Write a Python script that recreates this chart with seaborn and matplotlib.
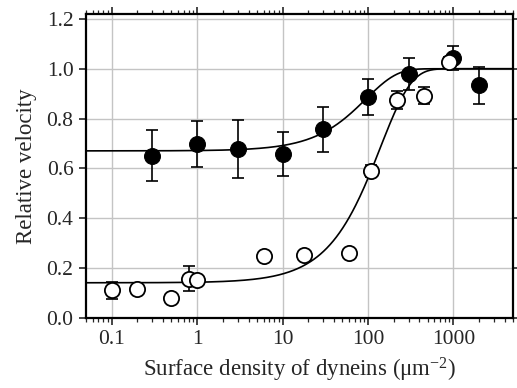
import numpy as np
import pandas as pd
import matplotlib
matplotlib.use("Agg")
import matplotlib.pyplot as plt
import seaborn as sns

# ---- data ----
filled_x = [0.3, 1, 3, 10, 30, 100, 300, 1000, 2000]
filled_y = [0.650, 0.698, 0.677, 0.658, 0.757, 0.886, 0.979, 1.043, 0.933]
filled_err = [0.102, 0.092, 0.116, 0.087, 0.090, 0.073, 0.065, 0.047, 0.073]

open_x = [0.1, 0.2, 0.5, 0.8, 1.0, 6, 18, 60, 110, 220, 450, 900]
open_y = [0.110, 0.113, 0.077, 0.157, 0.150, 0.247, 0.251, 0.260, 0.590, 0.875, 0.892, 1.029]
open_err = [0.035, 0.0, 0.0, 0.050, 0.0, 0.018, 0.018, 0.0, 0.025, 0.035, 0.035, 0.020]

# fitted curve parameters: base, top, K, exponent
filled_fit = dict(base=0.67, top=1.0, K=95.0, m=1.2)
open_fit = dict(base=0.14, top=1.0, K=140.0, m=1.2)

x_ticks = [0.1, 1, 10, 100, 1000]
x_ticklabels = ["0.1", "1", "10", "100", "1000"]
y_ticks = [0.0, 0.2, 0.4, 0.6, 0.8, 1.0, 1.2]


def fit_curve(x, base, top, K, m):
    return base + (top - base) * (1 - np.exp(-(x / K) ** m))


sns.set_style("ticks")
plt.rcParams["font.family"] = ["Liberation Serif", "DejaVu Serif"]
plt.rcParams["mathtext.fontset"] = "custom"
plt.rcParams["mathtext.rm"] = "Liberation Serif"
plt.rcParams["mathtext.it"] = "Liberation Serif:italic"

fig = plt.figure(figsize=(5.17, 3.88), dpi=100)
ax = fig.add_axes([0.1663, 0.1814, 0.8260, 0.7825])

xs = np.logspace(np.log10(0.05), np.log10(5000), 400)
curves = pd.concat([
    pd.DataFrame({"x": xs, "y": fit_curve(xs, **filled_fit), "s": "filled"}),
    pd.DataFrame({"x": xs, "y": fit_curve(xs, **open_fit), "s": "open"}),
])
sns.lineplot(data=curves, x="x", y="y", units="s", estimator=None,
             color="black", lw=1.2, ax=ax, zorder=3)

ax.errorbar(filled_x, filled_y, yerr=filled_err, fmt="none", ecolor="black",
            elinewidth=1.2, capsize=4, capthick=1.2, zorder=4)
sns.scatterplot(x=filled_x, y=filled_y, color="black", s=130, marker="o",
                edgecolor="black", linewidth=0.8, ax=ax, zorder=5)

ax.errorbar(open_x, open_y, yerr=open_err, fmt="none", ecolor="black",
            elinewidth=1.2, capsize=4, capthick=1.2, zorder=6)
sns.scatterplot(x=open_x, y=open_y, color="white", s=120, marker="o",
                edgecolor="black", linewidth=1.3, ax=ax, zorder=7)

ax.set_xscale("log")
ax.set_xlim(0.05, 5000)
ax.set_ylim(0.0, 1.22)
ax.set_xticks(x_ticks)
ax.set_xticklabels(x_ticklabels)
ax.set_yticks(y_ticks)
ax.set_yticklabels([f"{v:.1f}" for v in y_ticks])

ax.grid(True, which="major", color="#c4c4c4", lw=1.0, zorder=0)
ax.set_axisbelow(True)
for sp in ax.spines.values():
    sp.set_linewidth(1.6)
    sp.set_color("black")
    sp.set_visible(True)

ax.tick_params(axis="both", which="major", direction="out", length=5, width=1.2,
               labelsize=15.5, top=True, right=True, pad=4)
ax.tick_params(axis="x", which="minor", direction="out", length=3, width=0.9,
               top=True)
ax.tick_params(axis="y", which="minor", left=False, right=False)

ax.set_xlabel(r"Surface density of dyneins ($\mathregular{\mu m^{-2}}$)",
              fontsize=16.5, labelpad=5)
ax.set_ylabel("Relative velocity", fontsize=16.5, labelpad=7)

fig.savefig("out.png", dpi=100)
